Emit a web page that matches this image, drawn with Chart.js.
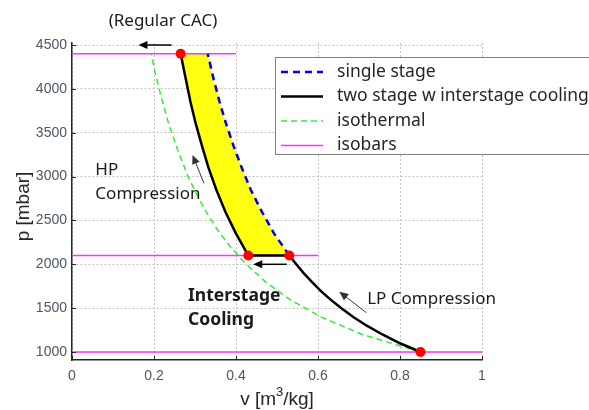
<!DOCTYPE html>
<html>
<head>
<meta charset="utf-8">
<script src="https://cdn.jsdelivr.net/npm/chart.js@4.4.1/dist/chart.umd.min.js"></script>
<style>
  html, body { margin: 0; padding: 0; background: #fff; }
  canvas { display: block; }
</style>
</head>
<body>
<canvas id="chart" width="589" height="410"></canvas>
<script>
// tick labels
const xTicks = [0, 0.2, 0.4, 0.6, 0.8, 1];
const yTicks = [1000, 1500, 2000, 2500, 3000, 3500, 4000, 4500];

// two stage: LP compression, interstage cooling, HP compression
const lpV = [0.850, 0.800, 0.757, 0.719, 0.686, 0.657, 0.630, 0.606, 0.585, 0.565, 0.547, 0.530];
const lpP = [1000, 1100, 1200, 1300, 1400, 1500, 1600, 1700, 1800, 1900, 2000, 2100];
const hpV = [0.430, 0.400, 0.374, 0.352, 0.333, 0.317, 0.302, 0.289, 0.278, 0.265];
const hpP = [2100, 2350, 2600, 2850, 3100, 3350, 3600, 3850, 4100, 4400];

// single stage (visible part above the interstage pressure)
const singleV = [0.530, 0.493, 0.463, 0.436, 0.414, 0.394, 0.376, 0.360, 0.346, 0.331];
const singleP = [2100, 2350, 2600, 2850, 3100, 3350, 3600, 3850, 4100, 4400];

// isothermal
const isoV = [0.850, 0.708, 0.607, 0.531, 0.472, 0.425, 0.386, 0.354, 0.327, 0.304, 0.283, 0.258, 0.236, 0.218, 0.202, 0.193];
const isoP = [1000, 1200, 1400, 1600, 1800, 2000, 2200, 2400, 2600, 2800, 3000, 3300, 3600, 3900, 4200, 4400];

// isobars
const isobarP = [4400, 2100, 1000];
const isobarEnd = [0.4, 0.6, 1];

// state points
const stateV = [0.85, 0.53, 0.43, 0.265];
const stateP = [1000, 2100, 2100, 4400];

const pts = (xs, ys) => xs.map((x, i) => ({ x, y: ys[i] }));

const twoStage = pts(lpV, lpP).concat(pts(hpV, hpP));
const yellowArea = pts(hpV, hpP).concat(pts(singleV, singleP).reverse());
const isobarData = [];
isobarP.forEach((p, i) => {
  if (i) isobarData.push({ x: null, y: null });
  isobarData.push({ x: 0, y: p }, { x: isobarEnd[i], y: p });
});

const textColor = '#1a1a1a';

// annotations
const notes = [
  { text: '(Regular CAC)', x: 163, y: 26, font: '17px "Noto Sans"', align: 'center', px: true },
  { text: 'HP', x: 0.057, y: 175, font: '17px "Noto Sans"', align: 'left' },
  { text: 'Compression', x: 0.057, y: 199, font: '17px "Noto Sans"', align: 'left' },
  { text: 'Interstage', x: 0.283, y: 301, font: 'bold 17.5px "Noto Sans"', align: 'left' },
  { text: 'Cooling', x: 0.283, y: 325, font: 'bold 17.5px "Noto Sans"', align: 'left' },
  { text: 'LP Compression', x: 0.72, y: 304, font: '17px "Noto Sans"', align: 'left' },
];
const arrows = [
  { from: [0.243, 4500], to: [0.162, 4500], color: '#000', width: 1.5 },
  { from: [0.524, 2000], to: [0.442, 2000], color: '#000', width: 1.5 },
  { from: [0.322, 2923], to: [0.294, 3246], color: '#333', width: 1 },
  { from: [0.718, 1448], to: [0.652, 1687], color: '#333', width: 1 },
];

function drawArrow(ctx, x1, y1, x2, y2, color, width) {
  const ang = Math.atan2(y2 - y1, x2 - x1);
  const len = 9, half = 4;
  ctx.save();
  ctx.strokeStyle = color;
  ctx.fillStyle = color;
  ctx.lineWidth = width;
  ctx.beginPath();
  ctx.moveTo(x1, y1);
  ctx.lineTo(x2 - Math.cos(ang) * len * 0.8, y2 - Math.sin(ang) * len * 0.8);
  ctx.stroke();
  ctx.beginPath();
  ctx.moveTo(x2, y2);
  ctx.lineTo(x2 - Math.cos(ang) * len + Math.sin(ang) * half, y2 - Math.sin(ang) * len - Math.cos(ang) * half);
  ctx.lineTo(x2 - Math.cos(ang) * len - Math.sin(ang) * half, y2 - Math.sin(ang) * len + Math.cos(ang) * half);
  ctx.closePath();
  ctx.fill();
  ctx.restore();
}

const decorations = {
  id: 'decorations',
  afterDraw(chart) {
    const { ctx, chartArea: area } = chart;
    const xs = chart.scales.x, ys = chart.scales.y;

    // inward tick marks
    ctx.save();
    ctx.strokeStyle = '#262626';
    ctx.lineWidth = 1;
    xTicks.forEach(v => {
      const px = Math.round(xs.getPixelForValue(v)) + 0.5;
      ctx.beginPath(); ctx.moveTo(px, area.bottom); ctx.lineTo(px, area.bottom - 4); ctx.stroke();
    });
    yTicks.forEach(v => {
      const py = Math.round(ys.getPixelForValue(v)) + 0.5;
      ctx.beginPath(); ctx.moveTo(area.left, py); ctx.lineTo(area.left + 4, py); ctx.stroke();
    });
    ctx.restore();

    // arrows
    arrows.forEach(a => {
      drawArrow(ctx, xs.getPixelForValue(a.from[0]), ys.getPixelForValue(a.from[1]),
        xs.getPixelForValue(a.to[0]), ys.getPixelForValue(a.to[1]), a.color, a.width);
    });

    // text notes
    ctx.save();
    ctx.fillStyle = textColor;
    ctx.textBaseline = 'alphabetic';
    notes.forEach(n => {
      ctx.font = n.font;
      ctx.textAlign = n.align;
      const px = n.px ? n.x : xs.getPixelForValue(n.x);
      ctx.fillText(n.text, px, n.y);
    });
    ctx.restore();

    // axis titles
    ctx.save();
    ctx.fillStyle = '#262626';
    ctx.font = '19px "Liberation Sans"';
    ctx.textAlign = 'center';
    ctx.textBaseline = 'middle';
    ctx.translate(24, (area.top + area.bottom) / 2 + 5);
    ctx.rotate(-Math.PI / 2);
    ctx.fillText('p [mbar]', 0, 0);
    ctx.restore();

    ctx.save();
    ctx.fillStyle = '#262626';
    ctx.textBaseline = 'alphabetic';
    const big = '19px "Liberation Sans"', small = '13px "Liberation Sans"';
    ctx.font = big;
    const w1 = ctx.measureText('v [m').width, w3 = ctx.measureText('/kg]').width;
    ctx.font = small;
    const w2 = ctx.measureText('3').width;
    let x0 = (area.left + area.right) / 2 - (w1 + w2 + w3) / 2;
    const base = 405;
    ctx.font = big; ctx.fillText('v [m', x0, base);
    ctx.font = small; ctx.fillText('3', x0 + w1, base - 9);
    ctx.font = big; ctx.fillText('/kg]', x0 + w1 + w2, base);
    ctx.restore();

    // legend box
    const lx = 275, ly = 57, rowH = 24.5;
    ctx.save();
    ctx.fillStyle = '#fff';
    ctx.strokeStyle = '#808080';
    ctx.lineWidth = 1;
    ctx.fillRect(lx, ly, 330, 97);
    ctx.strokeRect(lx + 0.5, ly + 0.5, 330, 97);
    ctx.font = '17.5px "Noto Sans"';
    ctx.textBaseline = 'middle';
    ctx.textAlign = 'left';
    chart.data.datasets.filter(d => d.label).forEach((d, i) => {
      const cy = ly + 15 + i * rowH;
      ctx.save();
      ctx.strokeStyle = d.borderColor;
      ctx.lineWidth = d.borderWidth;
      ctx.setLineDash(d.borderDash || []);
      ctx.beginPath(); ctx.moveTo(281, cy); ctx.lineTo(323, cy); ctx.stroke();
      ctx.restore();
      ctx.fillStyle = '#262626';
      ctx.fillText(d.label, 337, cy);
    });
    ctx.restore();
  }
};

new Chart(document.getElementById('chart'), {
  type: 'scatter',
  data: {
    datasets: [
      { label: 'single stage', data: pts(singleV, singleP), showLine: true, borderColor: '#0000ff',
        borderWidth: 2.5, borderDash: [7, 5], pointRadius: 0, tension: 0, order: 2 },
      { label: 'two stage w interstage cooling', data: twoStage, showLine: true, borderColor: '#000000',
        borderWidth: 2.5, pointRadius: 0, tension: 0, order: 1 },
      { label: 'isothermal', data: pts(isoV, isoP), showLine: true, borderColor: '#33ee33',
        borderWidth: 1.5, borderDash: [6, 4], pointRadius: 0, tension: 0, order: 3 },
      { label: 'isobars', data: isobarData, showLine: true, borderColor: '#ff33ff',
        borderWidth: 1.5, pointRadius: 0, spanGaps: false, order: 4 },
      { data: yellowArea, showLine: true, borderWidth: 0, borderColor: 'rgba(0,0,0,0)',
        backgroundColor: '#ffff10', fill: 'shape', pointRadius: 0, tension: 0, order: 5 },
      { data: pts(stateV, stateP), showLine: false, pointRadius: 5, pointHoverRadius: 5,
        backgroundColor: '#ff0000', borderWidth: 0, order: 0 },
    ]
  },
  options: {
    responsive: false,
    animation: false,
    devicePixelRatio: 1,
    layout: { padding: { left: 0, right: 107, top: 43, bottom: 0 } },
    plugins: { legend: { display: false }, tooltip: { enabled: false } },
    scales: {
      x: {
        type: 'linear', min: 0, max: 1,
        afterBuildTicks: s => { s.ticks = xTicks.map(value => ({ value })); },
        afterFit: s => { s.height = 50; },
        ticks: { color: '#4d5663', font: { family: 'Liberation Sans', size: 14 }, padding: 8,
          maxRotation: 0, callback: v => String(v) },
        grid: { color: '#c4c4c4', lineWidth: 1, drawTicks: false },
        border: { color: '#262626', width: 1.5, dash: [2, 2] },
      },
      y: {
        type: 'linear', min: 909, max: 4523,
        afterBuildTicks: s => { s.ticks = yTicks.map(value => ({ value })); },
        afterFit: s => { s.width = 72; },
        ticks: { color: '#4d5663', font: { family: 'Liberation Sans', size: 14 }, padding: 5,
          callback: v => String(v) },
        grid: { color: '#c4c4c4', lineWidth: 1, drawTicks: false },
        border: { color: '#262626', width: 1.5, dash: [2, 2] },
      }
    }
  },
  plugins: [decorations]
});
</script>
</body>
</html>
